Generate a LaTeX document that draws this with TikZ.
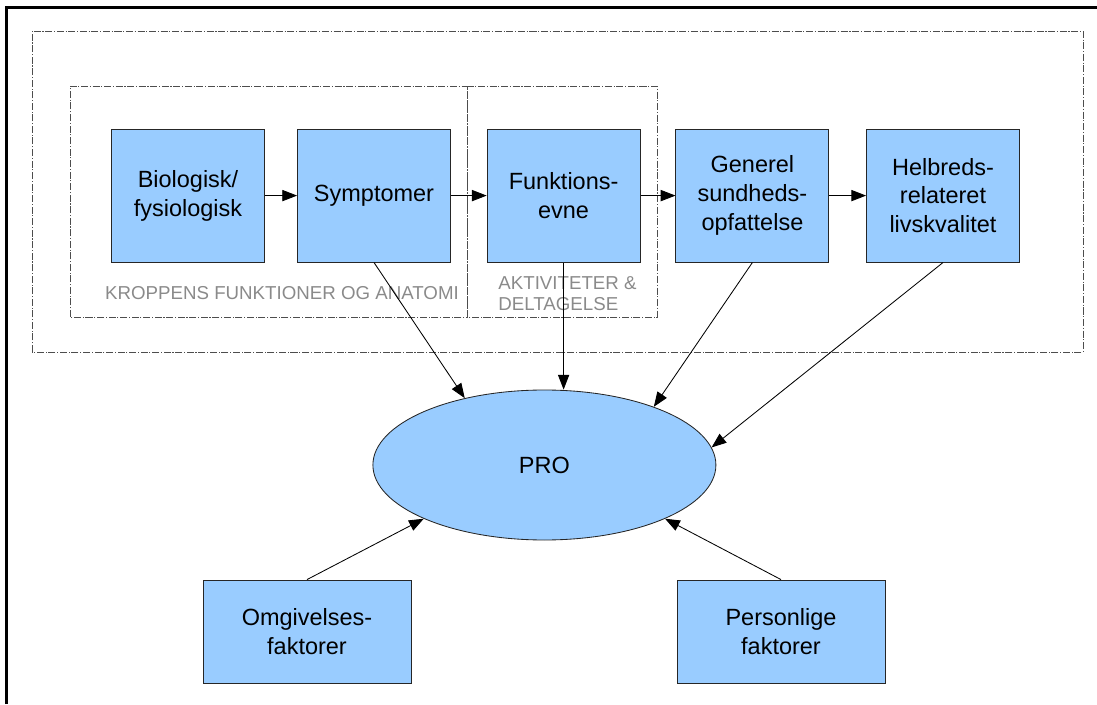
\documentclass[tikz,border=0pt]{standalone}
\usepackage{fontspec}
\setmainfont{Liberation Sans}
\usepackage{tikz}
\usetikzlibrary{arrows.meta,shapes.geometric}
\definecolor{boxblue}{HTML}{99CCFF}
\definecolor{framegray}{HTML}{4D4D4D}
\definecolor{labelgray}{HTML}{8A8A8A}

\begin{document}
\begin{tikzpicture}[>={Triangle[length=10.5pt,width=8pt]}, line width=0.6pt,
  box/.style={draw=black!85, fill=boxblue, font=\fontsize{16.7}{20.6}\selectfont, minimum width=3.825cm, minimum height=3.325cm, align=center, inner sep=0pt},
  lowbox/.style={box, minimum width=5.2cm, minimum height=2.575cm},
  oval/.style={ellipse, draw=black!85, fill=boxblue, font=\fontsize{16.7}{20.6}\selectfont, minimum width=8.575cm, minimum height=3.75cm, inner sep=0pt},
  frame/.style={draw=framegray, dash pattern=on 5pt off 1.2pt on 0.8pt off 1.2pt},
  lbl/.style={text=labelgray, font=\fontsize{13.3}{15}\selectfont, inner sep=0pt}]
\useasboundingbox (0,0) rectangle (27.425,17.6);
\draw[line width=2.1pt] (0.16,0) -- (0.16,17.41) -- (27.425,17.41);
% dash-dot frames
\draw[frame] (0.8,8.8) rectangle (27.075,16.825);
\draw[frame] (1.75,9.675) rectangle (11.675,15.45);
\draw[frame] (11.675,9.675) rectangle (16.425,15.45);
\node[lbl] (kfa) at (7.05,10.275) {KROPPENS FUNKTIONER OG ANATOMI};
\node[lbl, anchor=west, align=left] (akt) at (12.45,10.25) {AKTIVITETER \&\\DELTAGELSE};
% top row
\node[box] (bio) at (4.7,12.71)   {Biologisk/\\fysiologisk};
\node[box] (sym) at (9.35,12.71)  {Symptomer};
\node[box] (fun) at (14.09,12.71) {Funktions-\\evne};
\node[box] (gen) at (18.81,12.71) {Generel\\sundheds-\\opfattelse};
\node[box] (hel) at (23.575,12.71) {Helbreds-\\relateret\\livskvalitet};
\foreach \a/\b in {bio/sym,sym/fun,fun/gen,gen/hel} \draw[->] (\a) -- (\b);
% PRO and the factors below it
\node[oval] (pro) at (13.61,5.975) {PRO};
\node[lowbox] (omg) at (7.675,1.8125) {Omgivelses-\\faktorer};
\node[lowbox] (per) at (19.525,1.8125) {Personlige\\faktorer};
\draw[->] (sym.south) -- (pro.140);
\draw[->] (fun.south) -- (fun.south |- pro.north);
\draw[->] (gen.south) -- (pro.28);
\draw[->] (hel.south) -- (pro.6);
\draw[->] (omg.north) -- (pro.204);
\draw[->] (per.north) -- (pro.-24);
\end{tikzpicture}
\end{document}
